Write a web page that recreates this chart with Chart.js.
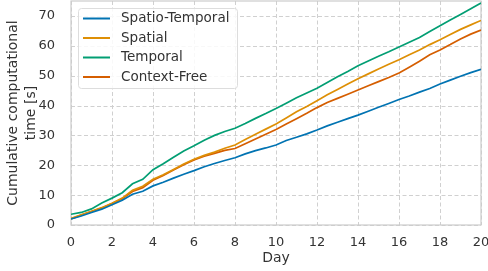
<!DOCTYPE html>
<html>
<head>
<meta charset="utf-8">
<script src="https://cdn.jsdelivr.net/npm/chart.js@4"></script>
<style>
  html, body { margin: 0; padding: 0; background: #fff; }
  #wrap { width: 488px; height: 271px; }
</style>
</head>
<body>
<div id="wrap"><canvas id="grafico" width="488" height="271"></canvas></div>
<script>
// días (cada medio día)
const dias = [0, 0.5, 1, 1.5, 2, 2.5, 3, 3.5, 4, 4.5, 5, 5.5, 6, 6.5, 7, 7.5, 8, 8.5, 9, 9.5,
  10, 10.5, 11, 11.5, 12, 12.5, 13, 13.5, 14, 14.5, 15, 15.5, 16, 16.5, 17, 17.5, 18, 18.5, 19, 19.5, 20];

const espacioTemporal = [2.0, 3.0, 4.2, 5.3, 6.8, 8.3, 10.3, 11.3, 13.1, 14.3, 15.7, 17.0, 18.2, 19.5, 20.6, 21.6, 22.5, 23.8, 24.9, 25.8,
  26.8, 28.3, 29.4, 30.5, 31.8, 33.2, 34.4, 35.6, 36.8, 38.1, 39.4, 40.7, 42.0, 43.2, 44.5, 45.7, 47.2, 48.5, 49.8, 51.0, 52.1];
const espacial = [2.2, 3.4, 4.6, 5.8, 7.3, 9.0, 11.6, 13.0, 15.3, 16.8, 18.6, 20.4, 22.0, 23.3, 24.4, 25.7, 26.8, 28.6, 30.4, 32.1,
  33.8, 35.8, 37.9, 39.7, 41.6, 43.6, 45.4, 47.2, 49.0, 50.6, 52.2, 53.8, 55.3, 57.0, 58.6, 60.4, 62.0, 63.8, 65.5, 67.0, 68.5];
const temporal = [3.6, 4.2, 5.4, 7.4, 9.0, 10.8, 13.8, 15.3, 18.5, 20.5, 22.7, 24.8, 26.5, 28.4, 30.0, 31.3, 32.4, 34.0, 35.7, 37.3,
  39.0, 40.8, 42.6, 44.2, 45.8, 47.7, 49.6, 51.4, 53.3, 54.9, 56.5, 58.0, 59.6, 61.2, 62.8, 64.8, 66.7, 68.6, 70.5, 72.4, 74.3];
const sinContexto = [2.0, 3.3, 4.5, 5.7, 7.2, 8.8, 11.2, 12.5, 15.0, 16.6, 18.4, 20.2, 21.8, 23.0, 24.0, 25.0, 25.6, 27.2, 28.8, 30.4,
  32.0, 33.8, 35.6, 37.4, 39.3, 41.0, 42.4, 43.8, 45.2, 46.6, 48.0, 49.4, 50.9, 52.8, 54.8, 57.0, 58.6, 60.4, 62.3, 63.9, 65.3];

const series = ['Spatio-Temporal', 'Spatial', 'Temporal', 'Context-Free'];
const colores = ['#0173b2', '#de8f05', '#029e73', '#d55e00'];
const valores = [espacioTemporal, espacial, temporal, sinContexto];

const xTicks = [0, 2, 4, 6, 8, 10, 12, 14, 16, 18, 20];
const yTicks = [0, 10, 20, 30, 40, 50, 60, 70];

const gris = '#cccccc';
const texto = '#333333';
const fuente = 'DejaVu Sans';

// rejilla punteada, borde del area y leyenda
const marco = {
  id: 'marco',
  beforeDatasetsDraw(chart) {
    const { ctx, chartArea: a, scales } = chart;
    ctx.save();
    ctx.strokeStyle = '#d0d0d0';
    ctx.lineWidth = 1;
    ctx.setLineDash([4, 2.5]);
    xTicks.forEach(v => {
      const px = Math.round(scales.x.getPixelForValue(v)) + 0.5;
      ctx.beginPath(); ctx.moveTo(px, a.top); ctx.lineTo(px, a.bottom); ctx.stroke();
    });
    yTicks.forEach(v => {
      const py = Math.round(scales.y.getPixelForValue(v)) + 0.5;
      ctx.beginPath(); ctx.moveTo(a.left, py); ctx.lineTo(a.right, py); ctx.stroke();
    });
    ctx.setLineDash([]);
    ctx.strokeStyle = gris;
    ctx.lineWidth = 1.2;
    ctx.strokeRect(a.left, a.top, a.right - a.left, a.bottom - a.top);
    ctx.restore();
  },
  afterDraw(chart) {
    const { ctx } = chart;
    const x0 = 78, y0 = 8, w = 159, h = 80;
    ctx.save();
    ctx.fillStyle = 'rgba(255,255,255,0.85)';
    ctx.strokeStyle = '#dddddd';
    ctx.lineWidth = 1;
    ctx.beginPath();
    ctx.roundRect(x0 + 0.5, y0 + 0.5, w, h, 3);
    ctx.fill();
    ctx.stroke();
    ctx.font = '13.5px "' + fuente + '"';
    ctx.textBaseline = 'middle';
    series.forEach((s, i) => {
      const y = y0 + 10.5 + i * 19.5;
      ctx.strokeStyle = colores[i];
      ctx.lineWidth = 2;
      ctx.beginPath();
      ctx.moveTo(83, y);
      ctx.lineTo(110, y);
      ctx.stroke();
      ctx.fillStyle = texto;
      ctx.fillText(s, 121, y);
    });
    ctx.restore();
  }
};

const ctx = document.getElementById('grafico').getContext('2d');
new Chart(ctx, {
  type: 'line',
  data: {
    datasets: series.map((s, i) => ({
      label: s,
      data: dias.map((d, j) => ({ x: d, y: valores[i][j] })),
      borderColor: colores[i],
      backgroundColor: colores[i],
      borderWidth: 1.7,
      pointRadius: 0,
      tension: 0
    }))
  },
  options: {
    responsive: false,
    animation: false,
    devicePixelRatio: 1,
    layout: { padding: { top: 1, right: 7, left: 0, bottom: 0 } },
    plugins: { legend: { display: false }, tooltip: { enabled: false } },
    scales: {
      x: {
        type: 'linear',
        min: 0, max: 20,
        afterBuildTicks: ax => { ax.ticks = xTicks.map(v => ({ value: v })); },
        afterFit: ax => { ax.height = 46; ax.paddingRight = 0; ax.paddingLeft = 0; },
        grid: { display: false },
        border: { display: false },
        ticks: { color: texto, font: { family: fuente, size: 13 }, padding: 2, maxRotation: 0 },
        title: { display: true, text: 'Day', color: texto, font: { family: fuente, size: 14 }, padding: { top: 0, bottom: 4 } }
      },
      y: {
        min: 0, max: 75,
        afterBuildTicks: ax => { ax.ticks = yTicks.map(v => ({ value: v })); },
        afterFit: ax => { ax.width = 71; ax.paddingTop = 0; ax.paddingBottom = 0; },
        grid: { display: false },
        border: { display: false },
        ticks: { color: texto, font: { family: fuente, size: 13 }, padding: 8 },
        title: { display: true, text: ['Cumulative computational', 'time [s]'], color: texto, font: { family: fuente, size: 14, lineHeight: 1.25 }, padding: { top: 5, bottom: 0 } }
      }
    }
  },
  plugins: [marco]
});
</script>
</body>
</html>
